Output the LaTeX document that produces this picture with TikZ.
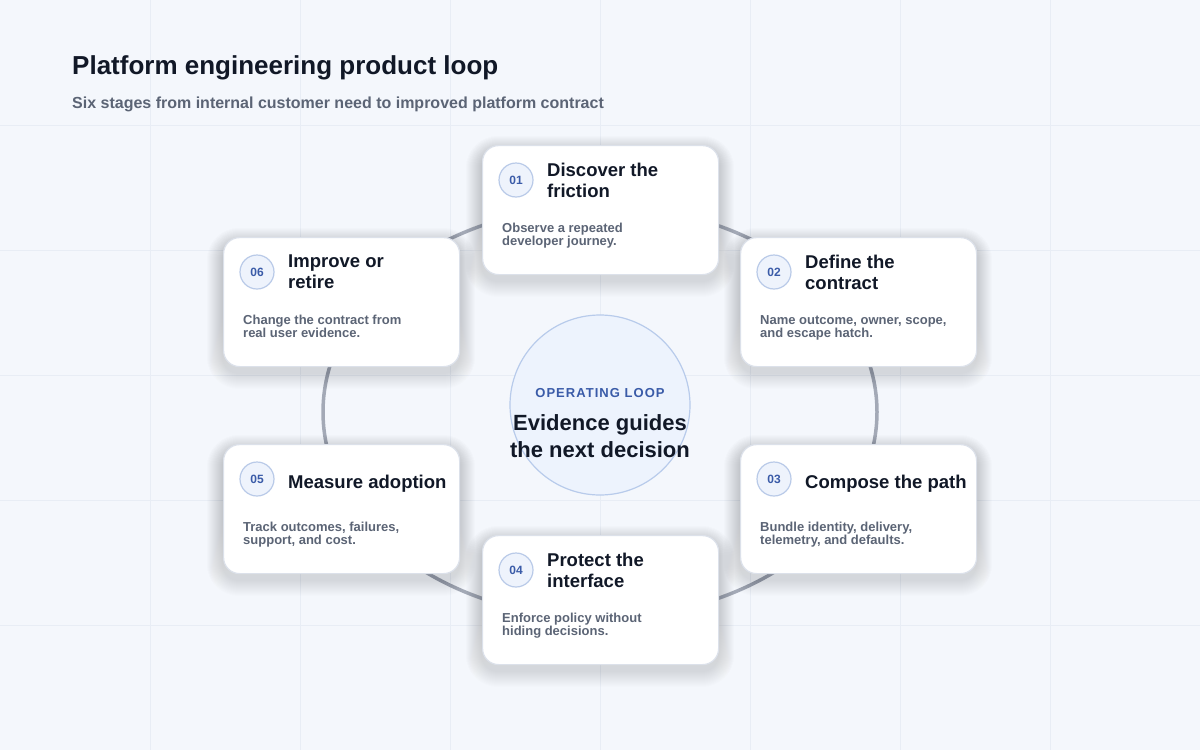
\documentclass[tikz,border=0pt]{standalone}
\usepackage{fontspec}
\setmainfont{Liberation Sans}
\usetikzlibrary{shapes.geometric}
\definecolor{bg}{HTML}{F4F7FC}
\definecolor{grid}{HTML}{E8EDF5}
\definecolor{ink}{HTML}{111827}
\definecolor{muted}{HTML}{5B6475}
\definecolor{ring}{HTML}{A3A9B6}
\definecolor{accent}{HTML}{3A5BA8}
\definecolor{cborder}{HTML}{DCE1EA}
\definecolor{badgefill}{HTML}{EEF3FC}
\definecolor{badgeline}{HTML}{B9CAE8}
\definecolor{hubfill}{HTML}{EDF3FD}
\definecolor{hubline}{HTML}{B8CBEB}
\definecolor{shade}{HTML}{6A7A9A}
\tikzset{
  card/.style={draw=cborder,line width=1.2pt,fill=white,rounded corners=16pt,minimum width=236pt,minimum height=129pt,inner sep=0pt},
  badge/.style={circle,draw=badgeline,line width=1.2pt,fill=badgefill,minimum size=34pt,inner sep=0pt,text=accent,font=\fontsize{12}{12}\selectfont\bfseries},
  ctitle/.style={anchor=west,align=left,text=ink,inner sep=0pt,font=\fontsize{18.5}{21}\selectfont\bfseries},
  cdesc/.style={anchor=north west,align=left,text=muted,inner sep=0pt,font=\fontsize{13}{13}\selectfont\bfseries},
}
\newcommand{\mycard}[7][0]{%
  \foreach \i in {1,...,16}{
    \fill[shade,opacity=0.007,rounded corners={16pt+\i pt}] (#3-\i,#4+7-\i) rectangle (#3+236+\i,#4+129+7+\i);
  }
  \node[card,anchor=north west] (#2) at (#3,#4) {};
  \node[badge] (#2b) at ([xshift=34pt,yshift=-35pt]#2.north west) {#5};
  \node[ctitle] (#2t) at ([xshift=31pt,yshift=-#1pt]#2b.center) {#6};
  \node[cdesc] (#2d) at ([xshift=20pt,yshift=-78pt]#2.north west) {#7};
}
\begin{document}
\begin{tikzpicture}[x=1pt,y=-1pt]
\fill[bg] (0,0) rectangle (1200,750);
\useasboundingbox (0,0) rectangle (1200,750);
\foreach \x in {150,300,...,1050} \draw[grid,line width=0.8pt] (\x,0) -- (\x,750);
\foreach \y in {125,250,...,625} \draw[grid,line width=0.8pt] (0,\y) -- (1200,\y);
\node[anchor=west,inner sep=0pt,text=ink,font=\fontsize{26}{26}\selectfont\bfseries] (title) at (72,68) {Platform engineering product loop};
\node[anchor=west,inner sep=0pt,text=muted,font=\fontsize{16}{16}\selectfont\bfseries] (sub) at (72,104) {Six stages from internal customer need to improved platform contract};
\node[ellipse,draw=ring,line width=3.5pt,minimum width=554pt,minimum height=412pt,inner sep=0pt] (ring) at (600,412) {};
\node[circle,draw=hubline,line width=1.2pt,fill=hubfill,minimum size=180pt,inner sep=0pt] (hub) at (600,405) {};
\node[text=accent,inner sep=0pt,font=\fontsize{13}{13}\selectfont\bfseries] (hubk) at (600,393) {\addfontfeature{LetterSpace=8}OPERATING LOOP};
\node[text=ink,align=center,inner sep=0pt,font=\fontsize{22}{26.5}\selectfont\bfseries] (hubt) at (600,436) {Evidence guides\\the next decision};
\mycard{c1}{482}{145}{01}{Discover the\\friction}{Observe a repeated\\developer journey.}
\mycard{c2}{740}{237}{02}{Define the\\contract}{Name outcome, owner, scope,\\and escape hatch.}
\mycard[5]{c3}{740}{444}{03}{Compose the path}{Bundle identity, delivery,\\telemetry, and defaults.}
\mycard{c4}{482}{535}{04}{Protect the\\interface}{Enforce policy without\\hiding decisions.}
\mycard[5]{c5}{223}{444}{05}{Measure adoption}{Track outcomes, failures,\\support, and cost.}
\mycard{c6}{223}{237}{06}{Improve or\\retire}{Change the contract from\\real user evidence.}
\end{tikzpicture}
\end{document}
